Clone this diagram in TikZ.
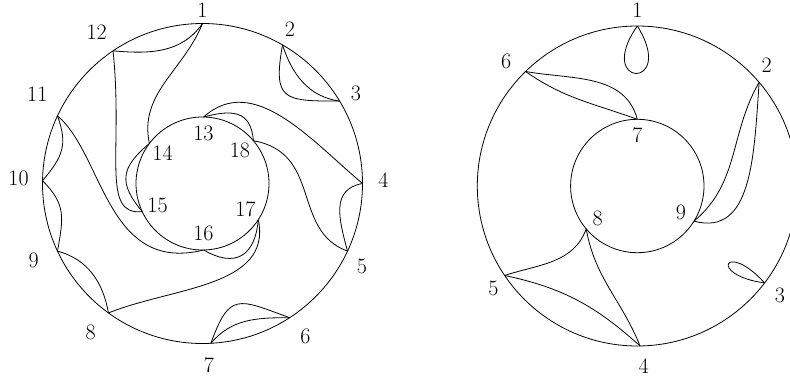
\documentclass[tikz,border=0pt]{standalone}
\usepackage{fontspec}
\usepackage{tikz}
\usetikzlibrary{calc}

\tikzset{
    lbl/.style={inner sep=0pt, font=\fontsize{22}{26}\selectfont},
}

\begin{document}
\begin{tikzpicture}[x=1pt, y=1pt, line width=0.8pt]
    \useasboundingbox (0,0) rectangle (790,381);
    % left disc
    \coordinate (L) at (202.5,197.5);
    \draw (L) circle (160pt);
    \draw (L) circle (66.5pt);
    \foreach \n/\a/\b/\d in {1/90/90/173.5, 2/60/60.5/177.5, 3/31/30.5/178, 4/0/1/181, 5/-25/-27.6/180, 6/-57/-56/184, 7/-87/-88/181.5, 8/-126/-127/186, 9/-155/-155.6/185.5, 10/179/178.3/184, 11/155/151.5/188, 12/124/125/184.5} {
        \coordinate (a\n) at ($(L)+(\a:160pt)$);
        \node (la\n) [lbl] at ($(L)+(\b:\d pt)$) {\n};
    }
    \foreach \n/\a/\b in {13/89/89, 14/143/143, 15/205/206, 16/271/271, 17/-33/-31, 18/40/41.6} {
        \coordinate (a\n) at ($(L)+(\a:66.5pt)$);
        \node (la\n) [lbl] at ($(L)+(\b:50pt)$) {\n};
    }
    \draw (a12) to[out=-5, in=-125] (a1);
    \draw (a1) to[out=-112, in=102] (a14);
    \draw (a12) to[out=-84, in=186, out distance=100pt, in distance=42pt] (a15);
    \draw (a14) to[out=220, in=130, looseness=1.4] (a15);
    \draw (a11) to[out=-70, in=50, looseness=1.2] (a10);
    \draw (a10) to[out=-45, in=80, looseness=1.2] (a9);
    \draw (a11) to[out=-40, in=194, out distance=60pt, in distance=100pt] (a16);
    \draw (a16) to[out=-30, in=-95, looseness=1.5] (a17);
    \draw (a9) to[out=-15, in=100] (a8);
    \draw (a8) to[out=22, in=-78] (a17);
    \draw (a7) to[out=70, in=160, looseness=1.7] (a6);
    \draw (a7) to[out=50, in=180] (a6);
    \draw (a4) to[out=190, in=105, looseness=1.2] (a5);
    \draw (a4) to[out=140, in=42] (a13);
    \draw (a13) to[out=15, in=95, looseness=1.4] (a18);
    \draw (a18) to[out=-10, in=160, out distance=70pt, in distance=60pt] (a5);
    \draw (a2) to[out=-100, in=180, looseness=1.8] (a3);
    \draw (a2) to[out=-72, in=172] (a3);
    % right disc
    \coordinate (R) at (637.3,195);
    \draw (R) circle (160pt);
    \draw (R) circle (66.7pt);
    \foreach \n/\a/\b/\d in {1/90/90/176, 2/40.4/43/177, 3/-37.3/-37.4/179.5, 4/-89/-88/180.5, 5/214/215.4/176.5, 6/134.3/136.4/181} {
        \coordinate (b\n) at ($(R)+(\a:160pt)$);
        \node (lb\n) [lbl] at ($(R)+(\b:\d pt)$) {\n};
    }
    \foreach \n/\a/\b in {7/90/90, 8/220/219, 9/-31.8/-31} {
        \coordinate (b\n) at ($(R)+(\a:66.7pt)$);
        \node (lb\n) [lbl] at ($(R)+(\b:51pt)$) {\n};
    }
    \draw (b1) to[out=-125, in=-58, out distance=76pt, in distance=76pt] (b1);
    \draw (b3) to[out=132, in=172, out distance=58pt, in distance=58pt] (b3);
    \draw (b6) to[out=-10, in=105] (b7);
    \draw (b6) to[out=-35, in=160] (b7);
    \draw (b2) to[out=-120, in=40] (b9);
    \draw (b2) to[out=-94, in=-15, out distance=75pt, in distance=60pt] (b9);
    \draw (b8) to[out=-110, in=18] (b5);
    \draw (b8) to[out=-80, in=112] (b4);
    \draw (b5) to[out=-12, in=138] (b4);
\end{tikzpicture}
\end{document}
